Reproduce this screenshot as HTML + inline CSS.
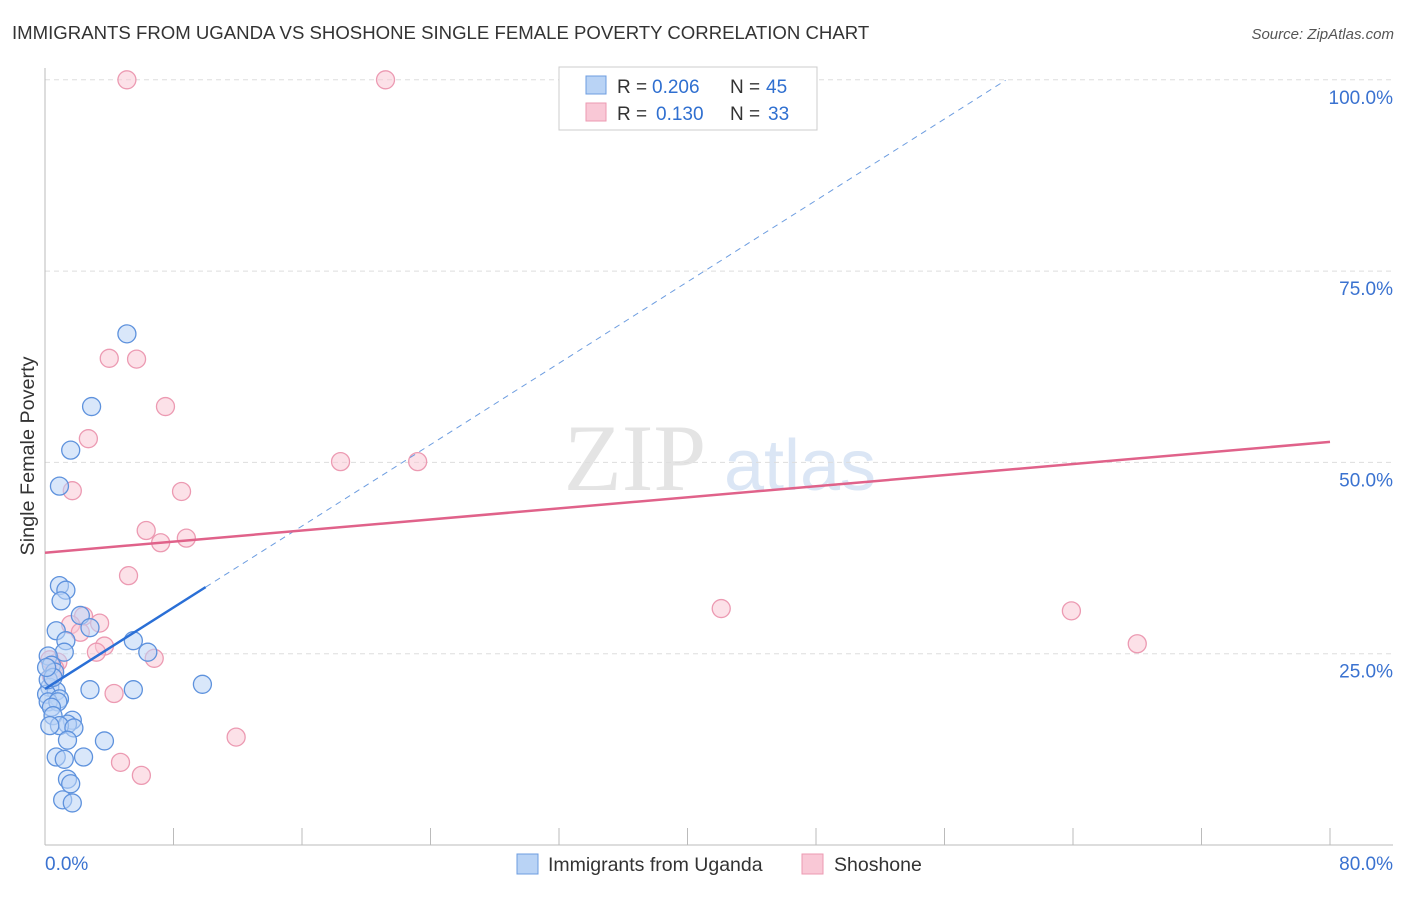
<!DOCTYPE html>
<html><head><meta charset="utf-8"><style>
body{margin:0;background:#fff;font-family:"Liberation Sans",sans-serif}
</style></head><body>
<svg id="c" width="1406" height="892" viewBox="0 0 1406 892" xmlns="http://www.w3.org/2000/svg" style="font-family:'Liberation Sans',sans-serif">
<text x="12" y="39" font-size="18.6" fill="#333">IMMIGRANTS FROM UGANDA VS SHOSHONE SINGLE FEMALE POVERTY CORRELATION CHART</text>
<text x="1394" y="39" font-size="15" fill="#555" font-style="italic" text-anchor="end">Source: ZipAtlas.com</text>
<text x="0" y="0" font-size="19.8" fill="#333" text-anchor="middle" transform="translate(34,456) rotate(-90)">Single Female Poverty</text>
<g><text x="635" y="490" font-size="95" fill="#e4e4e4" font-family="Liberation Serif" text-anchor="middle">ZIP</text><text x="800" y="490" font-size="72" fill="#dbe6f5" text-anchor="middle">atlas</text></g>
<g id="grid"></g><g id="axes"></g><g id="pts"></g><g id="lines"></g>
<g>
<rect x="559" y="67" width="258" height="63" fill="#fff" stroke="#ccc"/>
<rect x="586" y="76" width="20" height="18" fill="#b9d3f5" stroke="#6d9de0"/>
<rect x="586" y="103" width="20" height="18" fill="#f9c8d6" stroke="#ec9ab2"/>
<g font-size="19" fill="#333">
<text x="617" y="93">R =</text><text x="652" y="93" fill="#2f6fd0">0.206</text><text x="730" y="93">N =</text><text x="766" y="93" fill="#2f6fd0">45</text>
<text x="617" y="120">R =</text><text x="656" y="120" fill="#2f6fd0">0.130</text><text x="730" y="120">N =</text><text x="768" y="120" fill="#2f6fd0">33</text>
</g>
</g>
<g>
<rect x="517" y="854" width="21" height="20" fill="#b9d3f5" stroke="#6d9de0"/>
<text x="548" y="871" font-size="19.5" fill="#333">Immigrants from Uganda</text>
<rect x="802" y="854" width="21" height="20" fill="#f9c8d6" stroke="#ec9ab2"/>
<text x="834" y="871" font-size="19.5" fill="#333">Shoshone</text>
</g>
</svg>
<script>
const yTicks=[25,50,75,100];
const yTickLabels=["25.0%","50.0%","75.0%","100.0%"];
const xTickLabels=["0.0%","80.0%"];
const ugandaX=[5.1,2.9,1.6,0.9,0.9,1.3,1.0,2.2,2.8,0.7,1.3,1.2,5.5,6.4,0.2,0.4,0.6,2.8,5.5,9.8,0.3,0.7,0.1,0.9,0.2,0.8,0.4,0.5,1.7,1.4,0.9,0.3,1.8,1.4,3.7,0.7,1.2,2.4,1.4,1.6,1.1,1.7,0.2,0.5,0.1];
const ugandaY=[66.8,57.3,51.6,46.9,33.9,33.3,31.9,30.0,28.4,28.0,26.7,25.2,26.7,25.2,24.7,23.5,22.6,20.3,20.3,21.0,20.6,20.1,19.7,19.1,18.7,18.7,18.0,16.9,16.3,15.8,15.6,15.6,15.3,13.7,13.6,11.5,11.2,11.5,8.6,8.0,5.9,5.5,21.6,21.9,23.2];
const shoX=[5.1,21.2,36.9,4.0,5.7,7.5,2.7,18.4,23.2,1.7,8.5,6.3,7.2,8.8,5.2,42.1,63.9,68.0,2.4,1.6,3.4,2.2,3.7,3.2,6.8,0.8,0.6,0.3,4.3,11.9,4.7,6.0,0.4];
const shoY=[100,100,100,63.6,63.5,57.3,53.1,50.1,50.1,46.3,46.2,41.1,39.5,40.1,35.2,30.9,30.6,26.3,29.9,28.8,29.0,27.8,26.0,25.2,24.4,23.9,23.1,24.2,19.8,14.1,10.8,9.1,22.1];
const ugandaFit=[20.4,1.33];
const shoFit=[38.2,0.181];
const ugandaSolidEnd=10.0, ugandaDashEnd=59.8;
const ns="http://www.w3.org/2000/svg";
const X=v=>45+v/80*1285, Y=v=>845-v*7.652;
function mk(t,a,p){const e=document.createElementNS(ns,t);for(const k in a)e.setAttribute(k,a[k]);p.appendChild(e);return e;}
const grid=document.getElementById('grid'),axes=document.getElementById('axes'),pts=document.getElementById('pts'),lines=document.getElementById('lines');
yTicks.forEach((t,i)=>{
 const g=mk('line',{x1:45,x2:1393,y1:Y(t),y2:Y(t),stroke:'#ddd','stroke-dasharray':'5,4'},grid);
 
 
 const l=mk('text',{x:1393,y:Y(t)+24,'font-size':19,fill:'#3a72d0','text-anchor':'end'},axes);l.textContent=yTickLabels[i];
 
 
});
const ax=mk('line',{x1:45,x2:45,y1:68,y2:845,stroke:'#bbb'},axes);


const bx=mk('line',{x1:45,x2:1393,y1:845,y2:845,stroke:'#bbb'},axes);


for(let i=0;i<=10;i++){const t=mk('line',{x1:X(i*8),x2:X(i*8),y1:828,y2:845,stroke:'#bbb'},axes);
 
 }
[[0,'start',45],[1,'end',1393]].forEach(([i,a,x])=>{const l=mk('text',{x:x,y:870,'font-size':19,fill:'#3a72d0','text-anchor':a},axes);l.textContent=xTickLabels[i];
 
 });
function dots(xs,ys,fill,stroke,name){xs.forEach((x,i)=>{const c=mk('circle',{cx:X(x),cy:Y(ys[i]),r:9,fill:fill,'fill-opacity':0.55,stroke:stroke,'stroke-width':1.3},pts);
 
 });}
dots(shoX,shoY,'#f9c8d6','#ec9ab2','shoshone-point');
dots(ugandaX,ugandaY,'#b9d3f5','#5e92dd','uganda-point');
const f=(fit,x)=>fit[0]+fit[1]*x;
let l1=mk('line',{x1:X(ugandaSolidEnd),y1:Y(f(ugandaFit,ugandaSolidEnd)),x2:X(ugandaDashEnd),y2:Y(f(ugandaFit,ugandaDashEnd)),stroke:'#6d9de0','stroke-width':1,'stroke-dasharray':'6,5'},lines);


let l2=mk('line',{x1:X(0),y1:Y(f(ugandaFit,0)),x2:X(ugandaSolidEnd),y2:Y(f(ugandaFit,ugandaSolidEnd)),stroke:'#2a6fd6','stroke-width':2.5},lines);


let l3=mk('line',{x1:X(0),y1:Y(f(shoFit,0)),x2:X(80),y2:Y(f(shoFit,80)),stroke:'#e0628a','stroke-width':2.5},lines);


</script>
</body></html>
